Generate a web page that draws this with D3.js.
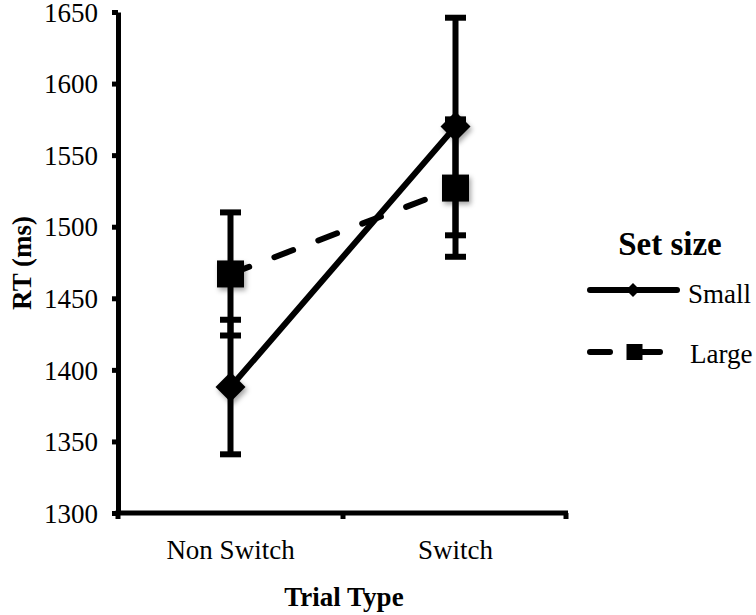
<!DOCTYPE html>
<html lang="en">
<head>
    <meta charset="UTF-8">
    <title>RT by Trial Type and Set size</title>
    <script src="https://d3js.org/d3.v7.min.js"></script>
    <style>
        body { margin: 0; background: #fff; }
        svg { display: block; }
        text { font-family: "Liberation Serif", "Times New Roman", serif; fill: #000; }
        .axis path, .axis line { stroke: #000; }
    </style>
</head>
<body>
    <svg></svg>
    <script>
        // data
        const categories = ["Non Switch", "Switch"];
        const smallMeans = [1388, 1570];
        const smallErr = [47, 76];
        const largeMeans = [1467, 1527];
        const largeErr = [43, 48];
        const yTicks = [1300, 1350, 1400, 1450, 1500, 1550, 1600, 1650];

        const width = 756, height = 615;
        const svg = d3.select("svg").attr("width", width).attr("height", height);

        // soft shadow under the markers
        const defs = svg.append("defs");
        defs.append("filter").attr("id", "shadow")
            .attr("x", "-50%").attr("y", "-50%").attr("width", "200%").attr("height", "200%")
            .append("feDropShadow")
            .attr("dx", 2).attr("dy", 3).attr("stdDeviation", 2.5)
            .attr("flood-color", "#000").attr("flood-opacity", 0.35);

        const x = d3.scaleBand().domain(categories).range([118, 568]).padding(0);
        const y = d3.scaleLinear().domain([1300, 1650]).range([513, 12]);
        const cx = d => x(d) + x.bandwidth() / 2;

        // y axis
        const yAxis = svg.append("g").attr("class", "axis")
            .attr("transform", "translate(118,0)")
            .call(d3.axisLeft(y).tickValues(yTicks).tickFormat(d3.format("d"))
                .tickSize(6).tickSizeOuter(0).tickPadding(14));
        yAxis.select(".domain").attr("stroke-width", 5);
        yAxis.selectAll(".tick line").attr("stroke-width", 5);
        yAxis.selectAll(".tick text").attr("font-size", 27).attr("dy", "0.34em");

        // x axis (labels at band centres, ticks at band edges)
        const xAxis = svg.append("g").attr("class", "axis")
            .attr("transform", "translate(0,513)")
            .call(d3.axisBottom(x).tickSize(0).tickSizeOuter(0).tickPadding(27));
        xAxis.select(".domain").attr("stroke-width", 5)
            .attr("d", `M${x.range()[0] - 2.5},0H${x.range()[1]}`);
        xAxis.selectAll(".tick text").attr("font-size", 27);
        const edges = categories.map(c => x(c)).concat([x.range()[1]]);
        xAxis.selectAll(".edge").data(edges).enter().append("line")
            .attr("class", "edge")
            .attr("x1", d => d === x.range()[1] ? d - 2 : d).attr("x2", d => d === x.range()[1] ? d - 2 : d)
            .attr("y1", 0).attr("y2", 6)
            .attr("stroke", "#000").attr("stroke-width", 5);

        // axis titles
        svg.append("text")
            .attr("transform", "translate(31,263) rotate(-90)")
            .attr("text-anchor", "middle").attr("font-size", 27).attr("font-weight", "bold")
            .text("RT (ms)");
        svg.append("text")
            .attr("x", 344).attr("y", 606)
            .attr("text-anchor", "middle").attr("font-size", 27).attr("font-weight", "bold")
            .text("Trial Type");

        const series = [
            { name: "Large", means: largeMeans, err: largeErr, dash: "20,27", marker: "square" },
            { name: "Small", means: smallMeans, err: smallErr, dash: null, marker: "diamond" }
        ];

        // error bars
        const bars = svg.append("g");
        series.forEach(s => {
            categories.forEach((c, i) => {
                const lo = y(s.means[i] - s.err[i]), hi = y(s.means[i] + s.err[i]);
                bars.append("line")
                    .attr("x1", cx(c)).attr("x2", cx(c)).attr("y1", lo).attr("y2", hi)
                    .attr("stroke", "#000").attr("stroke-width", 6);
                [lo, hi].forEach(v => {
                    bars.append("line")
                        .attr("x1", cx(c) - 10.5).attr("x2", cx(c) + 10.5).attr("y1", v).attr("y2", v)
                        .attr("stroke", "#000").attr("stroke-width", 6);
                });
            });
        });

        // series lines
        const line = d3.line().x(d => cx(d.c)).y(d => y(d.v));
        series.forEach(s => {
            svg.append("path")
                .datum(categories.map((c, i) => ({ c: c, v: s.means[i] })))
                .attr("d", line)
                .attr("fill", "none").attr("stroke", "#000").attr("stroke-width", 6)
                .attr("stroke-linecap", "round")
                .attr("stroke-dasharray", s.dash);
        });

        // markers
        const square = d3.symbol().type(d3.symbolSquare);
        const diamond = size => `M0,${-size}L${size},0L0,${size}L${-size},0Z`;
        series.forEach(s => {
            categories.forEach((c, i) => {
                const p = svg.append("path")
                    .attr("transform", `translate(${cx(c)},${y(s.means[i])})`)
                    .attr("fill", "#000").attr("filter", "url(#shadow)");
                if (s.marker === "square") p.attr("d", square.size(27 * 27)());
                else p.attr("d", diamond(15));
            });
        });

        // legend
        const legend = svg.append("g");
        legend.append("text")
            .attr("x", 670).attr("y", 255)
            .attr("text-anchor", "middle").attr("font-size", 33).attr("font-weight", "bold")
            .text("Set size");

        legend.append("line")
            .attr("x1", 590).attr("x2", 677).attr("y1", 290).attr("y2", 290)
            .attr("stroke", "#000").attr("stroke-width", 6).attr("stroke-linecap", "round");
        legend.append("path").attr("transform", "translate(633,290)").attr("d", diamond(7)).attr("fill", "#000");
        legend.append("text").attr("x", 688).attr("y", 303).attr("font-size", 27).text("Small");

        legend.append("line")
            .attr("x1", 590).attr("x2", 610).attr("y1", 352).attr("y2", 352)
            .attr("stroke", "#000").attr("stroke-width", 6).attr("stroke-linecap", "round");
        legend.append("line")
            .attr("x1", 634).attr("x2", 660).attr("y1", 352).attr("y2", 352)
            .attr("stroke", "#000").attr("stroke-width", 6).attr("stroke-linecap", "round");
        legend.append("path").attr("transform", "translate(634.5,352)").attr("d", square.size(16 * 16)()).attr("fill", "#000");
        legend.append("text").attr("x", 690).attr("y", 363).attr("font-size", 27).text("Large");
    </script>
</body>
</html>
